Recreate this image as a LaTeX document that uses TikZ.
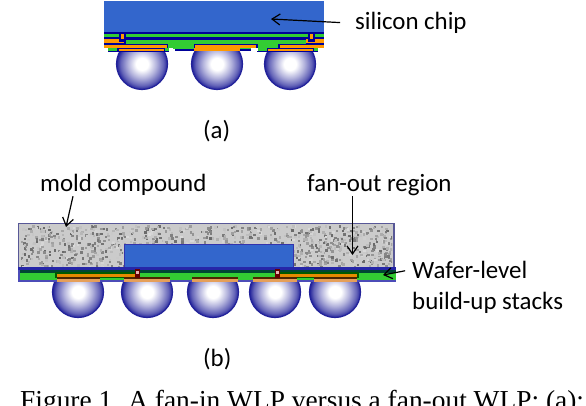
\documentclass[tikz,border=0pt]{standalone}
\usepackage{xcolor}
\usepackage{fontspec}
\setmainfont{Carlito}
\newfontfamily\capfont{Liberation Serif}
\usetikzlibrary{arrows.meta, positioning}
\definecolor{chipblue}{HTML}{3366CC}
\definecolor{navy}{HTML}{000099}
\definecolor{layergreen}{HTML}{33CC33}
\definecolor{layerorange}{HTML}{FF9900}
\definecolor{ballblue}{HTML}{22229A}
\definecolor{moldgray}{HTML}{CBCBCB}
\pgfdeclareradialshading{ballshade}{\pgfpoint{0bp}{0bp}}{color(0bp)=(white); color(6bp)=(white);
    color(14bp)=(ballblue!35); color(21bp)=(ballblue!70); color(25bp)=(ballblue); color(50bp)=(ballblue)}
\tikzstyle{label}  = [inner sep=0pt, anchor=base west, font=\fontsize{24.9}{27}\selectfont]
\tikzstyle{arrow}  = [line width=1.2pt,-{Straight Barb[length=8pt,width=11pt]}]
\tikzstyle{ball}   = [draw=ballblue, line width=1.2pt, shading=ballshade]
\tikzstyle{metal}  = [fill=layerorange]
\tikzstyle{wire}   = [fill=navy]
\tikzstyle{diel}   = [fill=layergreen]

\begin{document}
\begin{tikzpicture}[x=1pt,y=-1pt]
\useasboundingbox (0,0) rectangle (586,406);

% (a) fan-in
\foreach \cx in {142,217,290}
    \shade [ball] (\cx,64) circle (25.5);
\fill [chipblue] (104,1) rectangle (324,32);
\fill [wire]  (104,32) rectangle (324,48);
\fill [diel]  (104,34) rectangle (324,37);
\fill [metal] (104,39) rectangle (124,43);
\fill [metal] (306,39) rectangle (324,43);
\fill [diel]  (126,40) rectangle (306,44);
\fill [diel]  (168,44) rectangle (194,48);
\fill [diel]  (258,44) rectangle (278,48);
\fill [metal] (104,45) rectangle (167,48);
\fill [metal] (195,45) rectangle (256,48);
\fill [metal] (280,45) rectangle (324,48);
\fill [wire]  (119,33) rectangle (126,42);
\fill [metal] (121,34) rectangle (124,39);
\fill [wire]  (308,33) rectangle (315,42);
\fill [metal] (310,34) rectangle (313,39);
\fill [diel]  (108,48) rectangle (169,51);
\fill [diel]  (173,48) rectangle (251,49);
\fill [diel]  (258,48) rectangle (318,51);
\fill [wire]  (108,51) rectangle (169,52);
\fill [wire]  (175,49) rectangle (251,51);
\fill [wire]  (257,51) rectangle (318,52);
\fill [wire]  (117,48) rectangle (165,52);
\fill [metal] (119,49) rectangle (164,51.5);
\fill [metal] (194,48) rectangle (240,51);
\fill [wire]  (267,48) rectangle (314,52);
\fill [metal] (268,49) rectangle (313,51.5);

% (b) fan-out
\foreach \cx in {78,147,213,275,335}
    \shade [ball] (\cx,292) circle (25.5);
\fill [moldgray] (18,223) rectangle (394,268);
\begin{scope}
    \clip (20,225) rectangle (392,266);
    \pgfmathsetseed{41}
    \foreach \i in {1,...,1100} {
        \pgfmathsetmacro{\rx}{20+372*rnd}
        \pgfmathsetmacro{\ry}{225+41*rnd}
        \pgfmathsetmacro{\rg}{int(15+45*rnd)}
        \fill [black!\rg] (\rx,\ry) rectangle +(2.5,2.5);
    }
\end{scope}
\draw [navy!45!gray!90, line width=1.6pt] (18.5,223.5) rectangle (394,268);
\fill [chipblue, draw=navy!80, line width=1pt] (124,244) rectangle (293,267);
\fill [navy!85]  (18,267) rectangle (396,270);
\fill [green!35!black!80!blue] (18,270) rectangle (396,272.5);
\fill [diel]  (18,272.5) rectangle (396,279.5);
\fill [navy!70]  (18,279.5) rectangle (396,281.5);
\fill [navy!70]  (18,270) rectangle (20,281.5);
\fill [green!35!black] (55,272) rectangle (136,278);
\fill [green!35!black] (280,272) rectangle (359,278);
\fill [layerorange!90!black] (57,273.5) rectangle (136,277);
\fill [layerorange!90!black] (280,273.5) rectangle (357,277);
\foreach \px/\pw in {57/43,124/46,192/46,253/44,314/43} {
    \fill [black!70!orange] (\px,277) rectangle +(\pw,2.5);
    \fill [orange!45!brown!75!white] (\px,279) rectangle +(\pw,3);
}
\fill [black!60!red] (134.5,269) rectangle (139.5,278);
\fill [pink!80!gray] (135.5,270.5) rectangle (138.5,273.5);
\fill [black!60!red] (274.5,269) rectangle (279.5,278);
\fill [pink!80!gray] (275.5,270.5) rectangle (278.5,273.5);

% labels
\node (lchip)  [label] at (355,30)  {silicon chip};
\node (lmold)  [label] at (40,192)  {mold compound};
\node (lfan)   [label] at (307,192) {fan-out region};
\node (lwafer) [label] at (412,278) {Wafer-level};
\node (lstack) [label] at (412,309) {build-up stacks};
\node (la)     [label] at (203,139) {(a)};
\node (lb)     [label] at (203,366) {(b)};
\node (lcap)   [inner sep=0pt, anchor=base west, font=\capfont\fontsize{27.4}{29}\selectfont]
    at (20,409) {Figure 1. A fan-in WLP versus a fan-out WLP: (a):};

\coordinate (tchip)  at (271,19);
\coordinate (tmold)  at (66,227);
\coordinate (tfan)   at (352.5,255);
\coordinate (twafer) at (383,275);

\draw [arrow, shorten <=15pt] (lchip.west) -- (tchip);
\draw [arrow] ([xshift=33pt]lmold.south west) -- (tmold);
\draw [arrow] ([xshift=45.5pt]lfan.south west) -- (tfan);
\draw [arrow, shorten <=7pt] (lwafer.west) -- (twafer);

\end{tikzpicture}
\end{document}
